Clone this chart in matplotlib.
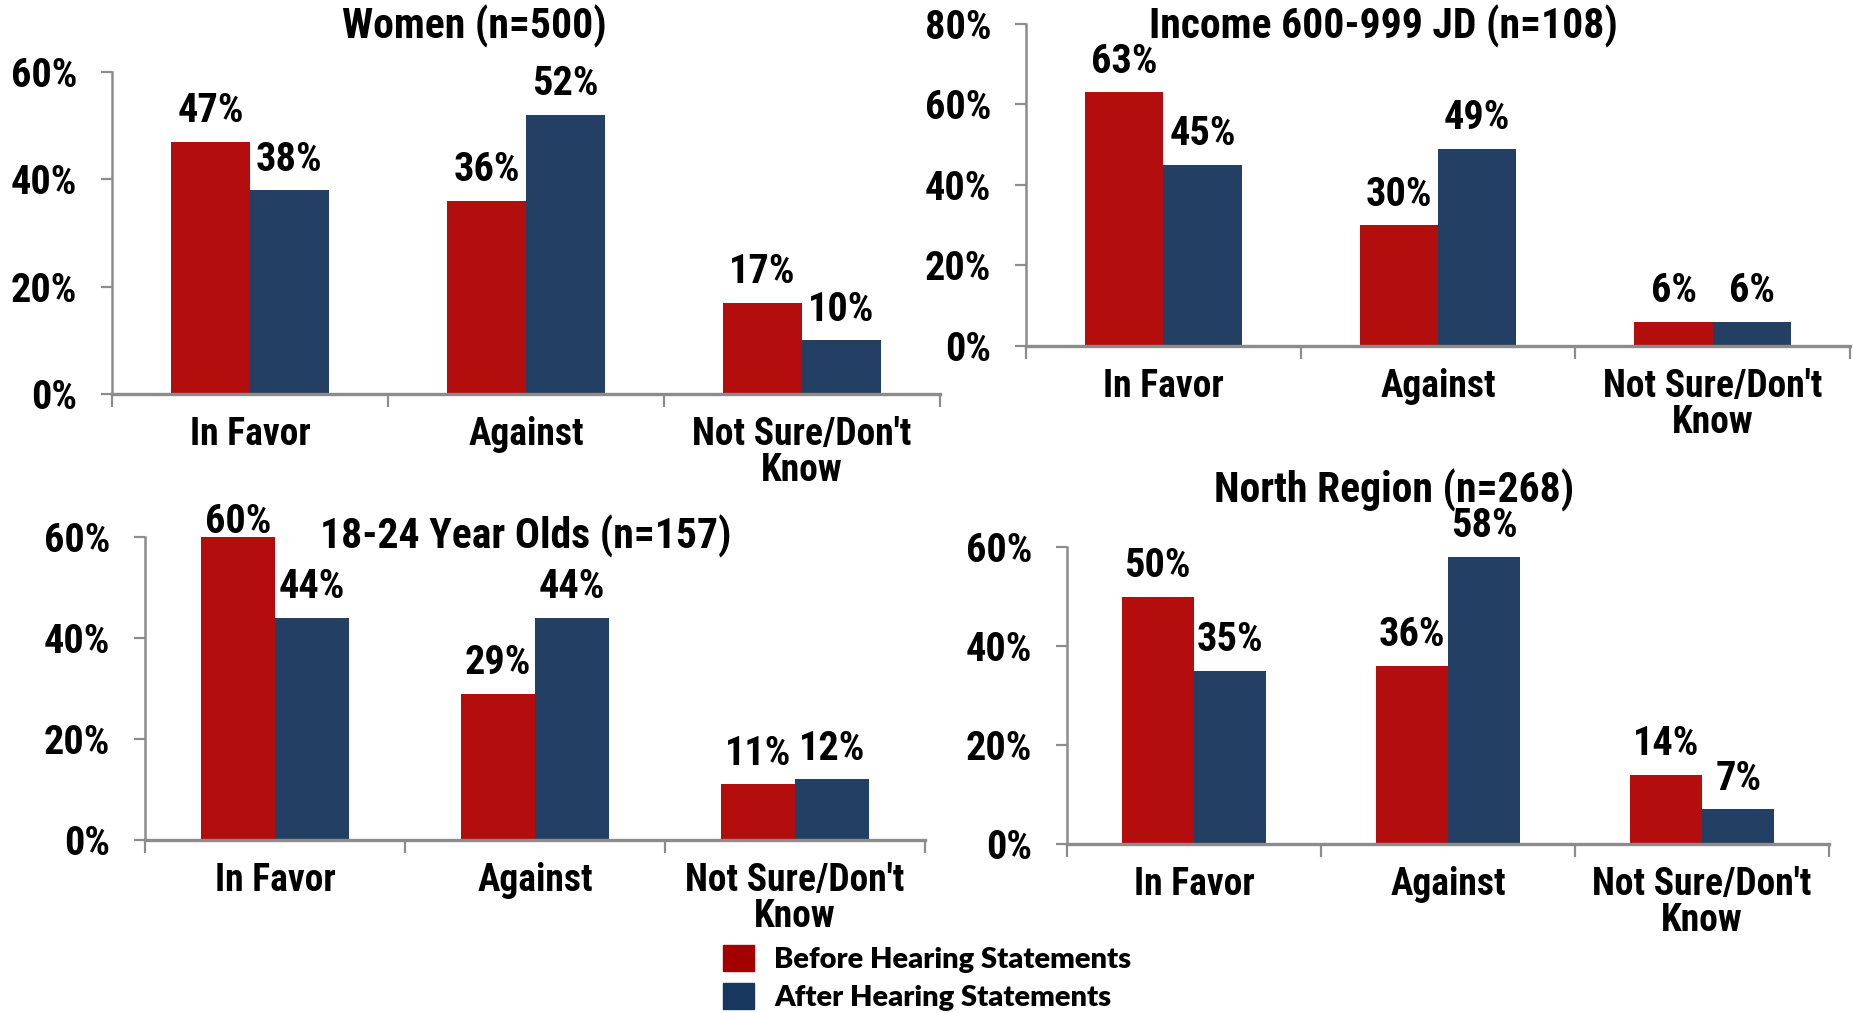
import matplotlib
matplotlib.use("Agg")
import matplotlib.pyplot as plt
import numpy as np

# survey answers, percent
categories = ["In Favor", "Against", "Not Sure/Don't\nKnow"]
series_names = ["Before Hearing Statements", "After Hearing Statements"]

women_title = "Women (n=500)"
women_before = [47, 36, 17]
women_after = [38, 52, 10]

income_title = "Income 600-999 JD (n=108)"
income_before = [63, 30, 6]
income_after = [45, 49, 6]

youth_title = "18-24 Year Olds (n=157)"
youth_before = [60, 29, 11]
youth_after = [44, 44, 12]

north_title = "North Region (n=268)"
north_before = [50, 36, 14]
north_after = [35, 58, 7]

RED = "#b30d0d"
BLUE = "#233f63"
LEG_RED = "#a50000"
LEG_BLUE = "#17375e"
GRID = "#8c8c8c"

W, H = 1853, 1013
FONT = ["Roboto Condensed", "Liberation Sans Narrow", "Roboto", "DejaVu Sans"]
plt.rcParams["font.family"] = FONT
plt.rcParams["font.weight"] = "bold"


def rect(left, right, bottom, top):
    # pixel box -> figure fraction
    return [left / W, 1 - bottom / H, (right - left) / W, (bottom - top) / H]


def panel(fig, box, before, after, ymax, title, title_xy, nudge=None):
    ax = fig.add_axes(rect(*box))
    x = np.arange(len(categories))
    w = 0.285
    b1 = ax.bar(x - w / 2, before, w, color=RED, edgecolor="none")
    b2 = ax.bar(x + w / 2, after, w, color=BLUE, edgecolor="none")

    for i, (bars, vals) in enumerate([(b1, before), (b2, after)]):
        for j, (bar, v) in enumerate(zip(bars, vals)):
            off = 14
            if nudge and (i, j) in nudge:
                off = nudge[(i, j)]
            ax.annotate(f"{v}%", (bar.get_x() + bar.get_width() / 2, v),
                        xytext=(0, off), textcoords="offset points",
                        ha="center", va="baseline", fontsize=29,
                        fontweight="bold", annotation_clip=False)

    ax.set_xlim(-0.5, len(categories) - 0.5)
    ax.set_ylim(0, ymax)
    ax.set_yticks(np.arange(0, ymax + 1, 20))
    ax.set_yticklabels([f"{t}%" for t in range(0, ymax + 1, 20)])
    ax.set_xticks(np.arange(len(categories) + 1) - 0.5)
    ax.set_xticklabels([])
    ax.set_xticks(x, minor=True)
    ax.set_xticklabels(categories, minor=True, fontsize=27, linespacing=0.95)
    ax.tick_params(axis="x", which="major", length=9, width=1.6,
                   color=GRID, direction="out")
    ax.tick_params(axis="x", which="minor", length=0, pad=16)
    ax.tick_params(axis="y", length=8, width=1.6, color=GRID,
                   direction="out", pad=17, labelsize=29)
    for s in ["top", "right"]:
        ax.spines[s].set_visible(False)
    for s in ["left", "bottom"]:
        ax.spines[s].set_color(GRID)
        ax.spines[s].set_linewidth(1.8)
    ax.spines["bottom"].set_linewidth(2.4)

    fig.text(title_xy[0] / W, 1 - title_xy[1] / H, title, ha="center",
             va="center", fontsize=30, fontweight="bold")
    return b1, b2


def main():
    fig = plt.figure(figsize=(W / 100, H / 100), dpi=100)

    panel(fig, (112, 940, 394, 72), women_before, women_after, 60,
          women_title, (474, 26))
    panel(fig, (1026, 1850, 346, 24), income_before, income_after, 80,
          income_title, (1383, 26))
    panel(fig, (145, 925, 840, 537), youth_before, youth_after, 60,
          youth_title, (526, 536), nudge={(0, 0): 3})
    panel(fig, (1067, 1829, 844, 547), north_before, north_after, 60,
          north_title, (1394, 490))

    handles = [plt.Rectangle((0, 0), 1, 1, color=LEG_RED),
               plt.Rectangle((0, 0), 1, 1, color=LEG_BLUE)]
    fig.legend(handles, series_names, loc="upper left",
               bbox_to_anchor=(723 / W, 1 - 945 / H), frameon=False,
               borderpad=0, borderaxespad=0, handlelength=1.05,
               handleheight=1.0, handletextpad=0.7, labelspacing=0.33,
               prop={"family": ["Lato", "DejaVu Sans"], "weight": "heavy",
                     "size": 21})

    fig.savefig("out.png", dpi=100)


if __name__ == "__main__":
    main()
